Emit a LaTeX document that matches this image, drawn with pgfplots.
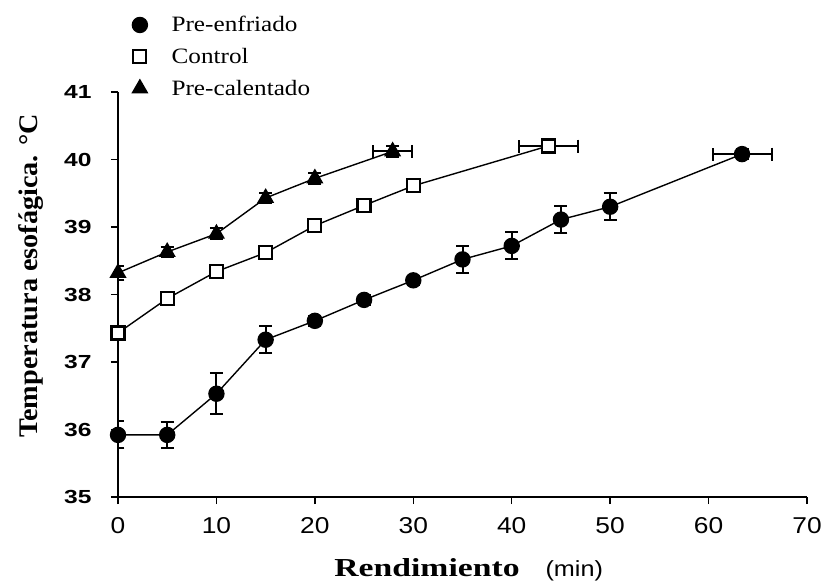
\documentclass[border=0pt]{standalone}
\usepackage{fontspec}
\usepackage{pgfplots}
\pgfplotsset{compat=1.18}
\usepackage{pgfplotstable}
\setmainfont{Liberation Serif}
\newfontfamily\legfont[FakeStretch=1.15]{Liberation Serif}
\newfontfamily\xlabfont[FakeStretch=1.3]{Liberation Serif}
\newfontfamily\ylabfont[FakeStretch=1.05]{Liberation Serif}
\newfontfamily\xtickfont[FakeStretch=1.15]{Liberation Sans}
\newfontfamily\ytickfont[FakeStretch=1.3]{Liberation Sans}

\pgfplotstableread{
x y ex ey
0 35.92 0 0.2
5 35.92 0 0.19
10 36.53 0 0.3
15 37.33 0 0.2
20 37.61 0 0.07
25 37.92 0 0.07
30 38.21 0 0.07
35 38.52 0 0.2
40 38.72 0 0.2
45 39.11 0 0.2
50 39.30 0 0.2
63.4 40.08 3 0.07
}\preenf
\pgfplotstableread{
x y ex ey
63.4 40.08 3 0.07
}\preenfend
\pgfplotstableread{
x y ex ey
0 37.43 0 0.07
5 37.94 0 0.06
10 38.34 0 0.06
15 38.62 0 0.06
20 39.02 0 0.06
25 39.32 0 0.06
30 39.61 0 0.06
43.7 40.20 3 0.07
}\control
\pgfplotstableread{
x y ex ey
43.7 40.20 3 0.07
}\controlend
\pgfplotstableread{
x y ex ey
0 38.32 0 0.1
5 38.63 0 0.08
10 38.90 0 0.08
15 39.43 0 0.08
20 39.72 0 0.08
27.9 40.12 2 0.08
}\precal
\pgfplotstableread{
x y ex ey
27.9 40.12 2 0.08
}\precalend

\begin{document}
\begin{tikzpicture}
\path[use as bounding box] (-118bp,-86bp) rectangle (718bp,497bp);
\begin{axis}[
  scale only axis,
  width=689bp, height=405bp,
  xmin=0, xmax=70, ymin=35, ymax=41,
  xtick={0,10,...,70}, ytick={35,...,41},
  axis lines*=left,
  axis line style={line width=1.8bp},
  tick align=outside,
  major tick length=7bp,
  tick style={line width=1.3bp, black},
  /pgf/number format/assume math mode=true,
  xticklabel style={font=\xtickfont\fontsize{23}{26}\selectfont, yshift=-10bp},
  yticklabel style={font=\ytickfont\bfseries\fontsize{19}{22}\selectfont, xshift=-16bp},
  xlabel={{\xlabfont\bfseries\fontsize{26}{28}\selectfont Rendimiento}\hspace{26bp}{\xtickfont\fontsize{22}{24}\selectfont (min)}},
  xlabel style={at={(axis description cs:0.509,-0.18)}, anchor=center},
  ylabel={\ylabfont\bfseries\fontsize{27}{30}\selectfont Temperatura esofágica. °C},
  ylabel style={at={(axis description cs:-0.126,0.546)}, anchor=center},
  legend style={at={(axis description cs:0,1)}, anchor=south west, xshift=13bp, yshift=-7bp,
    draw=none, fill=none, inner sep=0pt, row sep=11bp,
    font=\legfont\fontsize{22}{24}\selectfont},
  legend cell align=left,
  legend image code/.code={\draw[#1,only marks] plot coordinates {(0bp,0bp)}; \path (-8bp,0bp) (29bp,0bp);},
  error bars/y dir=both, error bars/y explicit,
  error bars/error bar style={line width=2bp, black},
  error bars/error mark options={rotate=90, mark size=6.5bp, line width=2bp, black},
]
% horizontal error bars of the last points (drawn first, under the marks)
\addplot[draw=none, mark=none, forget plot,
  error bars/x dir=both, error bars/x explicit, error bars/y dir=none]
  table[x=x, y=y, x error=ex] {\preenfend};
\addplot[draw=none, mark=none, forget plot,
  error bars/x dir=both, error bars/x explicit, error bars/y dir=none]
  table[x=x, y=y, x error=ex] {\controlend};
\addplot[draw=none, mark=none, forget plot,
  error bars/x dir=both, error bars/x explicit, error bars/y dir=none]
  table[x=x, y=y, x error=ex] {\precalend};

\addplot[black, line width=1.4bp, mark=*, mark size=7.5bp, mark options={fill=black, solid}]
  table[x=x, y=y, y error=ey] {\preenf};
\addlegendentry{Pre-enfriado}
\addplot[black, line width=1.4bp, mark=square*, mark size=6.5bp, mark options={fill=white, line width=2.2bp, solid}]
  table[x=x, y=y, y error=ey] {\control};
\addlegendentry{Control}
\addplot[black, line width=1.4bp, mark=triangle*, mark size=8.5bp, mark options={fill=black, solid}]
  table[x=x, y=y, y error=ey] {\precal};
\addlegendentry{Pre-calentado}
\end{axis}
\end{tikzpicture}
\end{document}
